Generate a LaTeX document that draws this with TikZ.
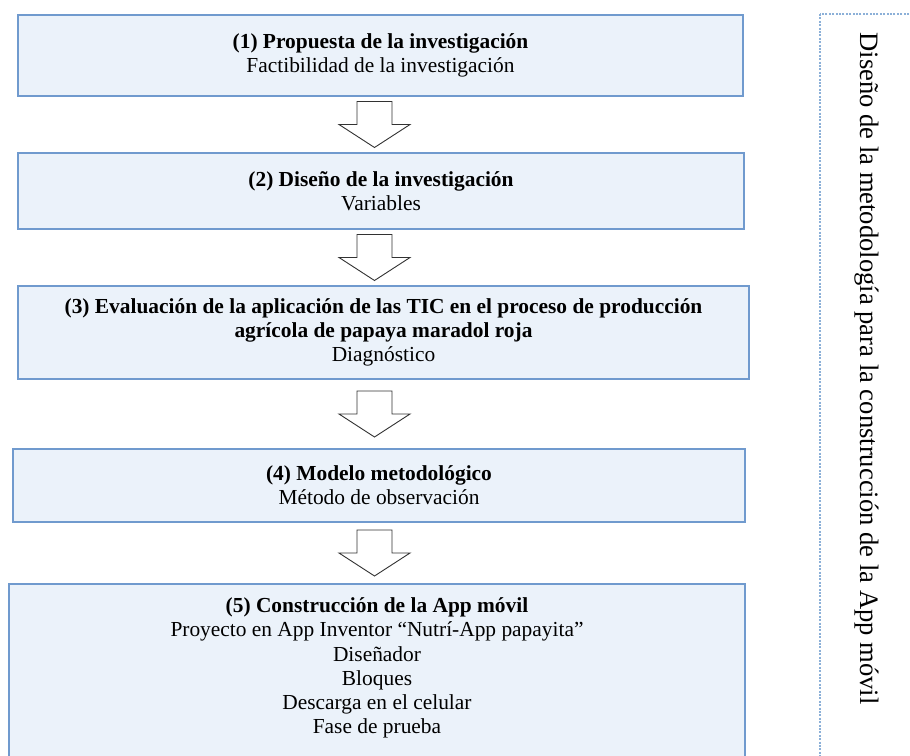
\documentclass[tikz,border=0pt]{standalone}
\usepackage{fontspec}
\setmainfont{Liberation Serif}
\usetikzlibrary{calc}
\definecolor{boxfill}{RGB}{235,242,250}
\definecolor{boxline}{RGB}{112,154,206}
\definecolor{dotline}{RGB}{140,176,216}
\definecolor{arrline}{RGB}{50,50,50}
\tikzset{
  stagebox/.style={draw=boxline, line width=1.2pt, fill=boxfill, align=center, inner sep=0pt,
    font=\fontsize{21.4}{24.2}\selectfont},
  boxtext/.style={align=center, inner sep=0pt, font=\fontsize{21.4}{24.2}\selectfont},
  blockarrow/.style={draw=arrline, line width=0.9pt, fill=white, line join=miter},
  sidelabel/.style={font=\fontsize{26.6}{30}\selectfont, rotate=-90, inner sep=0pt}
}
\newcommand\blockarr[1]{%
  \draw[blockarrow] ([shift={(-17.5,-23)}]#1) -- ([shift={(17.5,-23)}]#1) --
    ([shift={(17.5,0)}]#1) -- ([shift={(35.5,0)}]#1) -- ([shift={(0,23)}]#1) --
    ([shift={(-35.5,0)}]#1) -- ([shift={(-17.5,0)}]#1) -- cycle;}
\begin{document}
\begin{tikzpicture}[x=1pt,y=-1pt]
\useasboundingbox (0,0) rectangle (910,755);
\clip (0,0) rectangle (910,755);
\node[stagebox, minimum width=725pt, minimum height=81pt] (b1) at (380.5,55.5)
  {\textbf{(1) Propuesta de la investigación}\\Factibilidad de la investigación};
\node[stagebox, minimum width=726pt, minimum height=76pt] (b2) at (381,191)
  {\textbf{(2) Diseño de la investigación}\\Variables};
\node[stagebox, minimum width=731pt, minimum height=93pt] (b3) at (383.5,332.5)
  {\textbf{(3) Evaluación de la aplicación de las TIC en el proceso de producción}\\\textbf{agrícola de papaya maradol roja}\\Diagnóstico};
\node[stagebox, minimum width=732pt, minimum height=73pt] (b4) at (379,485.5)
  {\textbf{(4) Modelo metodológico}\\Método de observación};
\node[stagebox, minimum width=736pt, minimum height=180pt] (b5) at (377,674) {};
\node[boxtext] (t5) at (377,668)
  {\textbf{(5) Construcción de la App móvil}\\Proyecto en App Inventor “Nutrí-App papayita”\\Diseñador\\Bloques\\Descarga en el celular\\Fase de prueba};
\coordinate (ax) at (374.5,0);
\coordinate (m1) at ($(b1.south)!0.5!(b2.north)$);
\coordinate (m2) at ($(b2.south)!0.5!(b3.north)$);
\coordinate (m3) at ($(b3.south)!0.5!(b4.north)$);
\coordinate (m4) at ($(b4.south)!0.5!(b5.north)$);
\blockarr{ax |- m1}
\blockarr{ax |- m2}
\blockarr{ax |- m3}
\blockarr{ax |- m4}
\draw[dotline, line width=1.4pt, dash pattern=on 2pt off 1.4pt] (820,14) rectangle (940,780);
\node[sidelabel, anchor=base] (side) at (860,368.5) {Diseño de la metodología para la construcción de la App móvil};
\end{tikzpicture}
\end{document}
